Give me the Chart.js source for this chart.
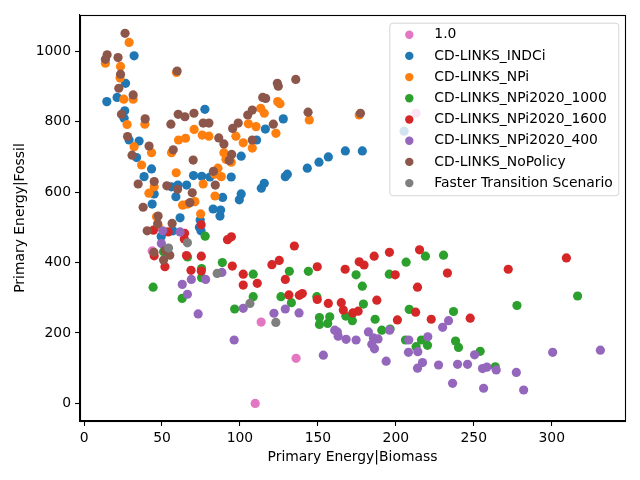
<!DOCTYPE html>
<html><head><meta charset="utf-8">
<script src="https://cdn.jsdelivr.net/npm/chart.js@4.4.0/dist/chart.umd.min.js"></script>
<style>html,body{margin:0;padding:0;background:#fff;}canvas{display:block;}</style>
</head><body>
<canvas id="c" width="640" height="480"></canvas>
<script>
// ---- data (x = Primary Energy|Biomass, y = Primary Energy|Fossil) ----
const seriesNames = ["1.0","CD-LINKS_INDCi","CD-LINKS_NPi","CD-LINKS_NPi2020_1000","CD-LINKS_NPi2020_1600","CD-LINKS_NPi2020_400","CD-LINKS_NoPolicy","Faster Transition Scenario"];
const seriesColors = ["#e377c2","#1f77b4","#ff7f0e","#2ca02c","#d62728","#9467bd","#8c564b","#7f7f7f"];

const pink10 = [[43.7,433],[109.8,0],[113.6,231],[136,128],[213,824]];
const indci = [[14.6,857],[21.2,869],[26.6,909],[32.1,987],[26.1,831],[25.7,810],[28.9,748],[35.3,745],[33.7,698],[43.3,666],[38.5,644],[45,595],[43.7,566],[49.5,474],[57,490],[56,615],[58.9,587],[60.2,620],[61.6,527],[65.8,620],[70.2,647],[75.5,645],[74,500],[75,490],[74.5,521],[77.5,835],[80.7,643],[82.8,552],[87.2,532],[87.6,549],[88.9,585],[94.4,643],[99.6,578],[100.8,595],[100.8,702],[110.7,748],[113.7,611],[115.6,625],[116.3,779],[127.8,808],[129.1,644],[130.4,651],[143.2,668],[150.7,685],[156.7,700],[167.6,717],[178.5,717],[205.3,773]];
const npi = [[13.7,966],[23.4,957],[23.1,924],[28.9,1025],[25.5,864],[31.5,864],[27.6,792],[39,793],[32.1,729],[43.3,712],[36.9,677],[41.6,597],[45,615],[46.5,530],[47.5,505],[56.1,712],[59.3,940],[59.1,655],[60.6,748],[65.1,753],[63.2,563],[66.4,566],[70.6,778],[71.1,573],[74.8,538],[75.8,762],[76.4,623],[80.1,759],[84,589],[83.8,651],[85.9,668],[88,644],[89.7,712],[91,693],[94.4,685],[97.4,759],[102.1,740],[105.4,794],[107.9,725],[110.3,786],[113.3,838],[115.6,824],[123.1,767],[124.2,857],[125.7,851],[144.5,805],[176.5,819]];
const npi1000 = [[44.3,330],[51,431],[62.9,298],[66.4,416],[75.4,383],[75.4,357],[77.7,475],[88.7,400],[96.6,268],[108.5,367],[108.5,303],[126.3,303],[131.7,375],[133,286],[143.9,375],[149.3,303],[151,244],[151,224],[156.3,227],[157.6,246],[167.9,248],[172.1,235],[174.5,365],[178.5,333],[179.2,282],[186.7,239],[191,208],[195.8,367],[196.3,211],[206.2,180],[206.6,401],[208.6,267],[213,161],[216.4,180],[219,418],[220.3,165],[230.6,421],[237,261],[238.3,177],[240.2,159],[254.1,148],[263.8,104],[277.7,278],[316.6,305]];
const npi1600 = [[44.5,492],[45,419],[51.9,388],[54,487],[64.5,483],[64.3,467],[65.7,420],[68.6,378],[75.1,507],[75.2,418],[75.2,376],[92,465],[94.5,473],[95.1,390],[102.1,367],[102.1,336],[111.1,341],[120.5,394],[125.2,406],[129.1,352],[131.4,308],[134.9,447],[138.1,307],[140,312],[149.6,388],[149.6,295],[156.7,284],[165,286],[166.3,265],[167.5,381],[172.4,257],[175.8,262],[176.5,402],[179.6,393],[186.1,418],[187.8,293],[195.9,429],[199.6,365],[201,237],[212.7,259],[213.9,330],[215.2,436],[222.7,239],[233.1,370],[247.7,242],[272.1,381],[309.4,413]];
const npi400 = [[50.5,490],[49.6,454],[61.6,487],[63,338],[66.3,310],[68.8,352],[73.2,254],[78,352],[88.4,372],[96.3,180],[102.1,270],[121.8,256],[129.1,268],[137.9,257],[153.5,137],[160.8,208],[162.5,203],[163,191],[168.1,182],[174.5,180],[182.4,203],[185.6,186],[188.6,183],[184.6,168],[186.3,155],[193.8,120],[196,208],[208.3,180],[208.1,145],[214.1,147],[213.9,100],[217.1,116],[220.5,189],[227.4,109],[230,216],[233.8,235],[236.4,57],[239.6,111],[246,111],[250.5,138],[255.6,99],[258.4,103],[256.3,43],[264.4,95],[277.3,88],[282,38],[300.6,145],[331.2,151]];
const noPolicy = [[13.7,977],[14.8,990],[21.8,982],[23.4,935],[22.3,895],[24,821],[26.3,1051],[27.9,758],[30.8,705],[31.5,876],[34.7,623],[37.9,557],[39.2,808],[40.5,490],[41.7,731],[44.8,429],[45,630],[47.2,510],[47.5,532],[51,407],[52,434],[53.1,618],[55,421],[55.7,793],[56.5,511],[57.2,720],[59.7,944],[60,608],[60.4,821],[64.7,814],[67.9,570],[69.4,598],[70,691],[70.5,824],[76.4,796],[80.1,796],[83,659],[84.2,620],[86.4,754],[89.7,737],[93.1,690],[94.7,707],[95.3,781],[98.9,796],[105,819],[107.9,833],[107.9,748],[114.6,869],[116.5,866],[121.4,793],[124,909],[124.6,901],[135.8,920],[143.7,827],[177.3,824]];
const fasterTransition = [[54.2,441],[66.3,456],[85.4,369],[106.4,284],[123,230]];

const xTicks = [0,50,100,150,200,250,300];
const yTicks = [0,200,400,600,800,1000];
const seriesData = [pink10, indci, npi, npi1000, npi1600, npi400, noPolicy, fasterTransition];

// ---- drawing ----
const FAMILY = "'DejaVu Sans', sans-serif";
const FS = 13.9;

const bgPlugin = {
  id: 'bg',
  beforeDraw(chart) {
    const c = chart.ctx; c.save(); c.fillStyle = '#fff'; c.fillRect(0, 0, chart.width, chart.height); c.restore();
  }
};
const framePlugin = {
  id: 'frame',
  afterDatasetsDraw(chart) {
    const a = chart.chartArea, c = chart.ctx;
    c.save(); c.strokeStyle = '#000'; c.lineWidth = 1.1;
    c.strokeRect(Math.round(a.left) + 0.5, Math.round(a.top) + 0.5, Math.round(a.right - a.left), Math.round(a.bottom - a.top));
    c.restore();
  }
};
const legendPlugin = {
  id: 'customLegend',
  afterDraw(chart) {
    const a = chart.chartArea, c = chart.ctx;
    const bw = 229, bh = 172.5;
    const bx = a.right - 6.7 - bw, by = a.top + 7.7;
    c.save();
    c.beginPath();
    c.roundRect(bx + 0.5, by + 0.5, bw, bh, 3);
    c.fillStyle = 'rgba(255,255,255,0.8)';
    c.fill();
    c.strokeStyle = 'rgba(204,204,204,0.8)';
    c.lineWidth = 1;
    c.stroke();
    c.font = FS + 'px ' + FAMILY;
    c.textBaseline = 'middle';
    c.textAlign = 'left';
    seriesNames.forEach((n, i) => {
      const y = by + 12 + i * 21.2;
      c.beginPath(); c.arc(bx + 20, y, 4.2, 0, Math.PI * 2); c.fillStyle = seriesColors[i]; c.fill();
      c.fillStyle = '#000';
      c.fillText(n, bx + 45, y);
    });
    c.restore();
  }
};

new Chart(document.getElementById('c').getContext('2d'), {
  type: 'scatter',
  data: {
    datasets: seriesData.map((d, i) => ({
      label: seriesNames[i],
      data: d.map(p => ({x: p[0], y: p[1]})),
      backgroundColor: seriesColors[i],
      borderColor: seriesColors[i],
      borderWidth: 0,
      pointRadius: 4.6,
      pointHoverRadius: 4.6,
      order: seriesNames.length - i
    }))
  },
  options: {
    responsive: false,
    animation: false,
    devicePixelRatio: 1,
    layout: {padding: {left: 0, top: 15, right: 15, bottom: 0}},
    plugins: {legend: {display: false}, tooltip: {enabled: false}},
    scales: {
      x: {
        type: 'linear', min: -2.6, max: 347,
        afterBuildTicks: s => { s.ticks = xTicks.map(v => ({value: v})); },
        afterFit: s => { s.height = 59; },
        ticks: {font: {family: FAMILY, size: FS}, color: '#000', padding: 4, maxRotation: 0, autoSkip: false, callback: v => String(v)},
        grid: {drawOnChartArea: false, tickLength: 5, tickColor: '#000', tickWidth: 1.1},
        border: {color: '#000', width: 1.1},
        title: {display: true, text: 'Primary Energy|Biomass', color: '#000', font: {family: FAMILY, size: FS}, padding: {top: 0, bottom: 14}}
      },
      y: {
        type: 'linear', min: -50, max: 1103,
        afterBuildTicks: s => { s.ticks = yTicks.map(v => ({value: v})); },
        afterFit: s => { s.width = 80; },
        ticks: {font: {family: FAMILY, size: FS}, color: '#000', padding: 4, autoSkip: false, callback: v => String(v)},
        grid: {drawOnChartArea: false, tickLength: 5, tickColor: '#000', tickWidth: 1.1},
        border: {color: '#000', width: 1.1},
        title: {display: true, text: 'Primary Energy|Fossil', color: '#000', font: {family: FAMILY, size: FS}, padding: {top: 12, bottom: 0}}
      }
    }
  },
  plugins: [bgPlugin, framePlugin, legendPlugin]
});
</script>
</body></html>
